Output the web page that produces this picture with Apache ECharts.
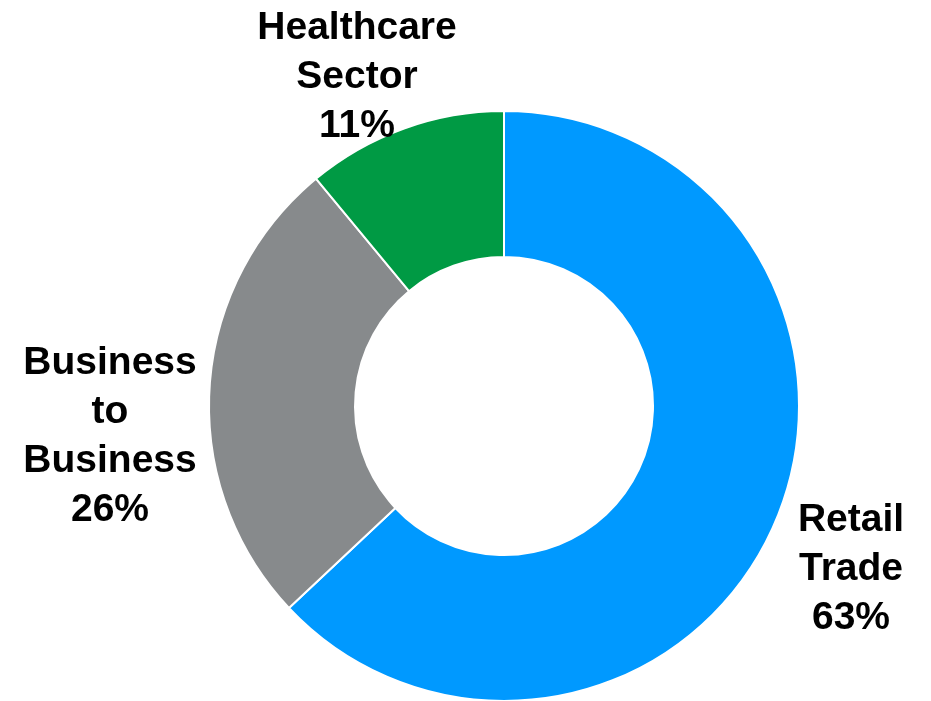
<!DOCTYPE html>
<html>
<head>
<meta charset="utf-8">
<script src="https://cdn.jsdelivr.net/npm/echarts@6/dist/echarts.min.js"></script>
<style>
  html, body { margin: 0; padding: 0; background: #fff; }
  #main { width: 931px; height: 701px; }
</style>
</head>
<body>
<div id="main"></div>
<script>
// slices, clockwise from 12 o'clock
const categories = ['Retail\nTrade', 'Business\nto\nBusiness', 'Healthcare\nSector']
const shares = [63, 26, 11]
const colors = ['#0099FF', '#878A8C', '#009A44']

// label block centres, relative to the pie centre
const labelOffsets = [[347, 163], [-394, 31], [-147, -329]]
const cx = 504
const cy = 406

const myChart = echarts.init(document.getElementById('main'))
const option = {
  animation: false,
  series: [
    {
      type: 'pie',
      center: [cx, cy],
      radius: [149, 295],
      startAngle: 90,
      clockwise: true,
      itemStyle: {
        borderColor: '#fff',
        borderWidth: 2
      },
      label: {
        show: true,
        position: 'outside',
        alignTo: 'none',
        overflow: 'none',
        formatter: p => p.name + '\n' + p.value + '%',
        color: '#000',
        fontFamily: 'Liberation Sans, Arial, sans-serif',
        fontWeight: 'bold',
        fontSize: 39,
        lineHeight: 49,
        align: 'center'
      },
      labelLine: { show: false },
      labelLayout: params => {
        const o = labelOffsets[params.dataIndex]
        return { x: cx + o[0], y: cy + o[1], align: 'center', verticalAlign: 'middle' }
      },
      data: categories.map((name, i) => ({
        name: name,
        value: shares[i],
        itemStyle: { color: colors[i] }
      }))
    }
  ]
}
myChart.setOption(option)
</script>
</body>
</html>
